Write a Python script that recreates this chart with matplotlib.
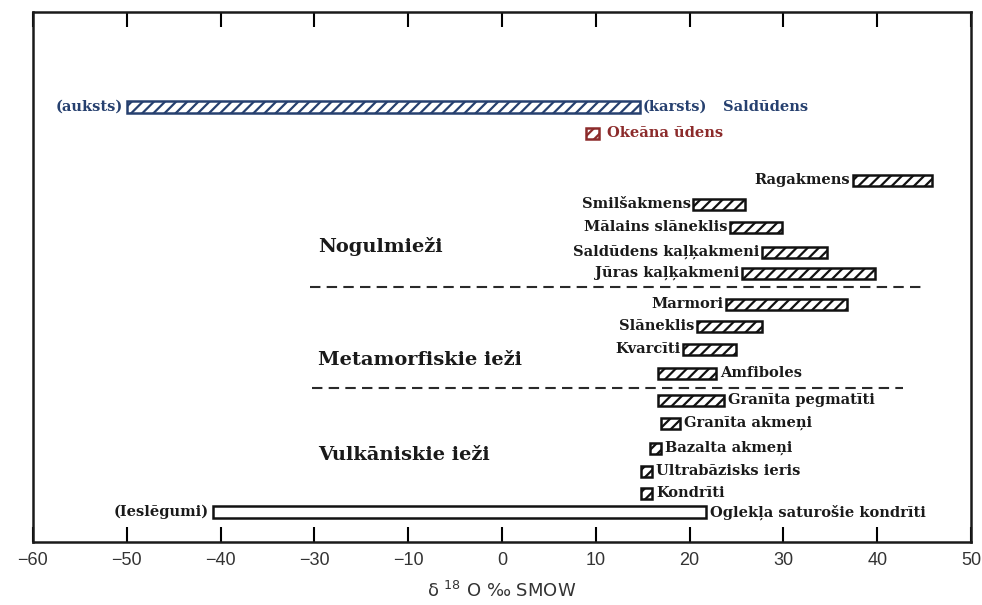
import matplotlib.pyplot as plt

plt.rcParams['hatch.linewidth'] = 1.6

# delta 18O ranges of rocks (per mil, on the drawn axis scale)
rocks = ['Ragakmens', 'Smilšakmens', 'Mālains slāneklis', 'Saldūdens kaļķakmeni',
         'Jūras kaļķakmeni', 'Marmori', 'Slāneklis', 'Kvarcīti', 'Amfiboles',
         'Granīta pegmatīti', 'Granīta akmeņi', 'Bazalta akmeņi',
         'Ultrabāzisks ieris', 'Kondrīti']
rock_low = [37.4, 20.4, 24.3, 27.7, 25.6, 23.9, 20.8, 19.3, 16.6,
            16.6, 16.9, 15.8, 14.8, 14.8]
rock_high = [45.8, 25.9, 29.8, 34.7, 39.8, 36.8, 27.7, 24.9, 22.8,
             23.7, 19.0, 16.9, 16.0, 16.0]

fresh_water = (-40.0, 14.7)
ocean_water = (9.0, 10.3)
carb_chondrites = (-30.8, 21.7)

groups = ['Nogulmieži', 'Metamorfiskie ieži', 'Vulkāniskie ieži']

tick_pos = [-50, -40, -30, -20, -10, 0, 10, 20, 30, 40, 50]
tick_labels = ['−60', '−50', '−40', '−30', '−10', '0', '10', '20', '30', '40', '50']

# layout (rows counted downward)
rock_y = [180, 204, 227, 252, 273, 304, 326, 349, 373, 400, 423, 448, 471, 493]
rock_side = ['left'] * 8 + ['right'] * 6
fresh_y, ocean_y, carb_y = 107, 133, 512
group_y = [247, 360, 455]
divider_y = [287, 388]
divider_x = [(-20.5, 44.8), (-20.3, 42.8)]

navy = '#26406f'
darkred = '#8c2b2b'
serif = 'DejaVu Serif'

fig = plt.figure(figsize=(9.82, 6.05), dpi=100)
ax = fig.add_axes([33 / 982, 63 / 605, 938 / 982, 530 / 605])
ax.set_xlim(-50, 50)
ax.set_ylim(542, 12)

bh = 11
for name, lo, hi, y, sd in zip(rocks, rock_low, rock_high, rock_y, rock_side):
    ax.barh(y, hi - lo, left=lo, height=bh, color='white', edgecolor='#111111',
            hatch='///', linewidth=1.8)
    if sd == 'left':
        ax.annotate(name, (lo, y), xytext=(-2, 0), textcoords='offset points',
                    ha='right', va='center', family=serif, fontweight='bold',
                    fontsize=10.5, color='#1a1a1a')
    else:
        ax.annotate(name, (hi, y), xytext=(3, 0), textcoords='offset points',
                    ha='left', va='center', family=serif, fontweight='bold',
                    fontsize=10.5, color='#1a1a1a')

# fresh water
ax.barh(fresh_y, fresh_water[1] - fresh_water[0], left=fresh_water[0], height=12,
        color='white', edgecolor=navy, hatch='///', linewidth=1.8)
ax.annotate('(auksts)', (fresh_water[0], fresh_y), xytext=(-3, 0),
            textcoords='offset points', ha='right', va='center', family=serif,
            fontweight='bold', fontsize=10.5, color=navy)
ax.annotate('(karsts)', (fresh_water[1], fresh_y), xytext=(2, 0),
            textcoords='offset points', ha='left', va='center', family=serif,
            fontweight='bold', fontsize=10.5, color=navy)
ax.annotate('Saldūdens', (fresh_water[1], fresh_y), xytext=(60, 0),
            textcoords='offset points', ha='left', va='center', family=serif,
            fontweight='bold', fontsize=10.5, color=navy)

# ocean water
ax.barh(ocean_y, ocean_water[1] - ocean_water[0], left=ocean_water[0], height=11,
        color='white', edgecolor=darkred, hatch='///', linewidth=1.8)
ax.annotate('Okeāna ūdens', (ocean_water[1], ocean_y), xytext=(6, 0),
            textcoords='offset points', ha='left', va='center', family=serif,
            fontweight='bold', fontsize=10.5, color=darkred)

# carbonaceous chondrites (open box)
ax.barh(carb_y, carb_chondrites[1] - carb_chondrites[0], left=carb_chondrites[0],
        height=12, color='white', edgecolor='#111111', linewidth=1.8)
ax.annotate('(Ieslēgumi)', (carb_chondrites[0], carb_y), xytext=(-3, 0),
            textcoords='offset points', ha='right', va='center', family=serif,
            fontweight='bold', fontsize=10.5, color='#1a1a1a')
ax.annotate('Oglekļa saturošie kondrīti', (carb_chondrites[1], carb_y), xytext=(3, 0),
            textcoords='offset points', ha='left', va='center', family=serif,
            fontweight='bold', fontsize=10.5, color='#1a1a1a')

# group dividers and names
for y, (x0, x1) in zip(divider_y, divider_x):
    ax.plot([x0, x1], [y, y], color='#2a2a2a', linewidth=1.5, dashes=(5, 3))
for g, y in zip(groups, group_y):
    ax.text(-19.6, y, g, ha='left', va='center', family=serif, fontweight='bold',
            fontsize=14, color='#1a1a1a')

ax.set_xticks(tick_pos)
ax.set_xticklabels(tick_labels, family='Liberation Sans', fontsize=13, color='#333333')
ax.set_yticks([])
ax.tick_params(axis='x', direction='in', top=True, length=11, width=1.5, pad=7)
for s in ax.spines.values():
    s.set_linewidth(1.8)
    s.set_color('#1a1a1a')

ax.set_xlabel(r'δ $^{18}$ O ‰ SMOW', fontsize=13, color='#333333', labelpad=9,
              family='DejaVu Sans')

fig.savefig('out.png', dpi=100)
